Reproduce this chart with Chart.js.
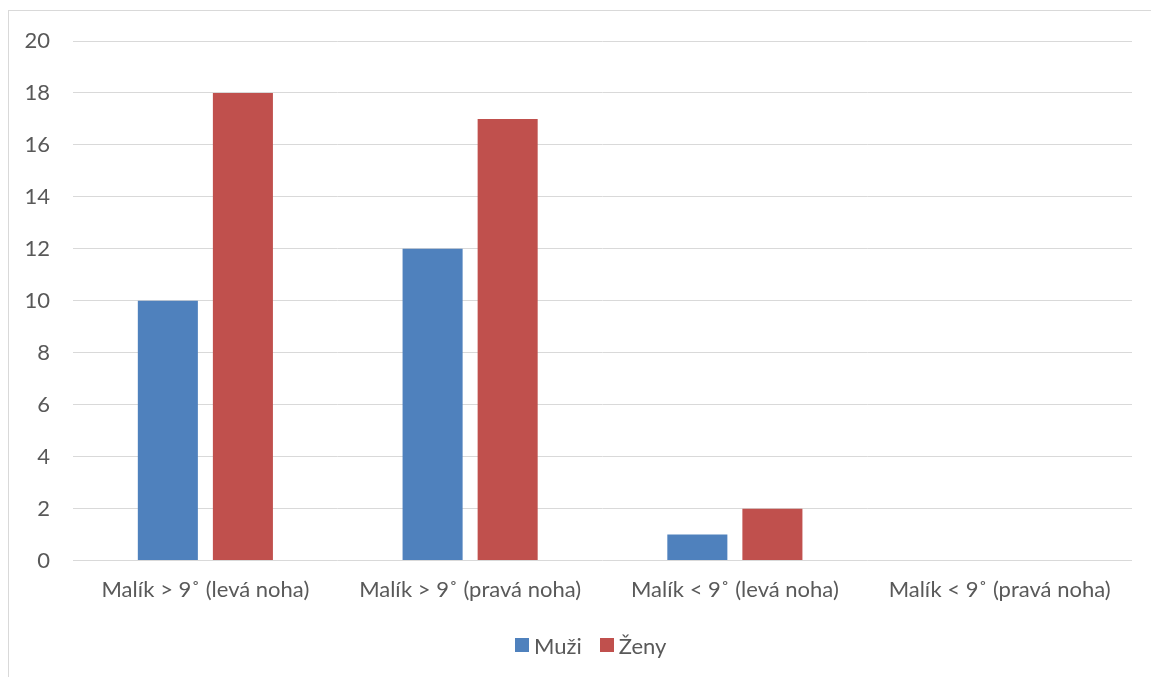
<!DOCTYPE html>
<html>
<head>
<meta charset="utf-8">
<script src="https://cdn.jsdelivr.net/npm/chart.js@4"></script>
<style>
  html, body { margin: 0; padding: 0; background: #fff; overflow: hidden; }
  #wrap { position: relative; width: 1151px; height: 677px; }
  #frame { position: absolute; left: 8px; top: 10px; width: 1200px; height: 700px; border: 1px solid #d9d9d9; box-sizing: border-box; }
  #c { position: absolute; left: 0; top: 0; }
  #legend { position: absolute; left: 515px; top: 630px; height: 30px; display: flex; align-items: center;
            font-family: Lato, "Open Sans", sans-serif; font-size: 22px; color: #595959; white-space: nowrap; }
  #legend .item { display: flex; align-items: center; margin-right: 18px; }
  #legend .box { width: 14px; height: 14px; margin-right: 5px; }
</style>
</head>
<body>
<div id="wrap">
  <div id="frame"></div>
  <canvas id="c" width="1151" height="677"></canvas>
  <div id="legend"></div>
</div>
<script>
const categories = [
  'Malík > 9˚ (levá noha)',
  'Malík > 9˚ (pravá noha)',
  'Malík < 9˚ (levá noha)',
  'Malík < 9˚ (pravá noha)'
];
const muzi = [10, 12, 1, 0];
const zeny = [18, 17, 2, 0];
const yTicks = [0, 2, 4, 6, 8, 10, 12, 14, 16, 18, 20];

const textColor = '#595959';
const fontFamily = 'Lato, "Open Sans", sans-serif';

const chart = new Chart(document.getElementById('c'), {
  type: 'bar',
  data: {
    labels: categories,
    datasets: [
      { label: 'Muži', data: muzi, backgroundColor: '#4f81bd', barPercentage: 0.8, categoryPercentage: 0.567 },
      { label: 'Ženy', data: zeny, backgroundColor: '#c0504d', barPercentage: 0.8, categoryPercentage: 0.567 }
    ]
  },
  options: {
    responsive: false,
    animation: false,
    devicePixelRatio: 1,
    layout: { padding: { top: 41, right: 19, left: 0, bottom: 58 } },
    plugins: {
      tooltip: { enabled: false },
      legend: { display: false }
    },
    scales: {
      x: {
        grid: { display: false, drawTicks: false },
        border: { display: false },
        ticks: {
          color: textColor,
          font: { family: fontFamily, size: 22 },
          padding: 16,
          maxRotation: 0,
          autoSkip: false
        }
      },
      y: {
        min: 0,
        max: 20,
        afterFit: (scale) => { scale.width = 73; },
        afterBuildTicks: (scale) => { scale.ticks = yTicks.map(v => ({ value: v })); },
        grid: { color: '#d9d9d9', lineWidth: 1, drawTicks: false },
        border: { display: false },
        ticks: {
          color: textColor,
          font: { family: fontFamily, size: 22 },
          padding: 23
        }
      }
    }
  }
});

// Legend built from the chart's own datasets
const legendEl = document.getElementById('legend');
chart.data.datasets.forEach(ds => {
  const item = document.createElement('span');
  item.className = 'item';
  const box = document.createElement('span');
  box.className = 'box';
  box.style.background = ds.backgroundColor;
  const txt = document.createElement('span');
  txt.textContent = ds.label;
  item.appendChild(box);
  item.appendChild(txt);
  legendEl.appendChild(item);
});
</script>
</body>
</html>
